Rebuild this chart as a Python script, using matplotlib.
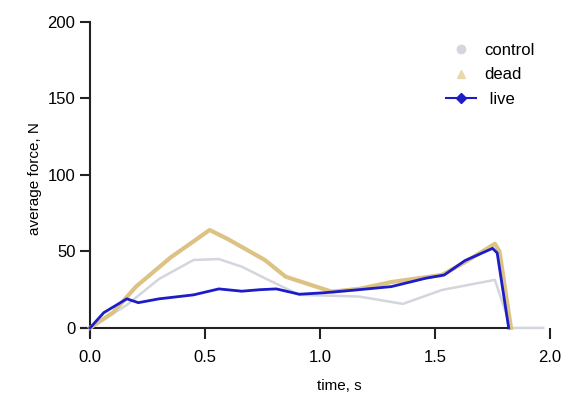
import matplotlib.pyplot as plt
from matplotlib.lines import Line2D

plt.rcParams['font.family'] = ['Liberation Sans', 'DejaVu Sans']

# live
t_live = [0.0, 0.06, 0.16, 0.21, 0.3, 0.45, 0.56, 0.66, 0.74, 0.81, 0.91, 1.02, 1.17,
          1.31, 1.46, 1.54, 1.63, 1.75, 1.77, 1.82]
f_live = [0.0, 10, 19, 16.5, 19, 21.6, 25.5, 24, 25, 25.5, 22, 23, 25,
          27, 32.5, 34.6, 44, 52, 49, 0]

# dead
t_dead = [0.0, 0.1, 0.2, 0.35, 0.52, 0.6, 0.76, 0.85, 1.05, 1.17, 1.31, 1.53, 1.63,
          1.76, 1.78, 1.83]
f_dead = [0.0, 10, 27, 46, 64, 58, 44.4, 33.5, 23.7, 25.5, 30, 34.6, 43,
          55, 50, 0]

# control
t_ctrl = [0.0, 0.16, 0.3, 0.45, 0.56, 0.66, 0.76, 0.91, 1.17, 1.36, 1.53, 1.76, 1.83, 1.97]
f_ctrl = [0.0, 15, 32, 44.4, 45, 40, 32.5, 21.6, 20.5, 15.7, 24.8, 31.4, 0, 0]

fig = plt.figure(figsize=(5.62, 3.99), dpi=100)
ax = fig.add_axes([0.1438, 0.159, 0.835, 0.786])

ax.plot(t_ctrl, f_ctrl, color='#d3d6dd', lw=1.8, zorder=2)
ax.plot(t_dead, f_dead, color='#dcc384', lw=3, zorder=3)
ax.plot(t_live, f_live, color='#1c1cc8', lw=2, zorder=4)

ax.set_xlim(-0.04, 2.0)
ax.set_ylim(-5, 200)
ax.spines['top'].set_visible(False)
ax.spines['right'].set_visible(False)
ax.spines['left'].set_position(('data', 0))
ax.spines['bottom'].set_position(('data', 0))
ax.spines['left'].set_bounds(-5, 200)
ax.spines['bottom'].set_bounds(-0.04, 1.82)
for s in ('left', 'bottom'):
    ax.spines[s].set_linewidth(1.5)
    ax.spines[s].set_color('#222222')

ax.set_xticks([0.0, 0.5, 1.0, 1.5, 2.0])
ax.set_xticklabels(['0.0', '0.5', '1.0', '1.5', '2.0'])
ax.set_yticks([0, 50, 100, 150, 200])
ax.tick_params(axis='both', labelsize=12, width=1.5, length=7, color='#222222')
ax.tick_params(axis='x', length=8, pad=8)

ax.set_xlabel('time, s', fontsize=11)
ax.set_ylabel('average force, N', fontsize=11)
ax.xaxis.set_label_coords(0.55, -0.14)

handles = [
    Line2D([], [], color='none', marker='o', markersize=6,
           markerfacecolor='#d3d6dd', markeredgecolor='#d3d6dd'),
    Line2D([], [], color='none', marker='^', markersize=6,
           markerfacecolor='#ead9a8', markeredgecolor='#ead9a8'),
    Line2D([], [], color='#1c1cc8', lw=1.5, marker='D', markersize=5,
           markerfacecolor='#1c1cc8'),
]
ax.legend(handles, ['control', 'dead', ' live'], loc='upper right',
          bbox_to_anchor=(1.0, 0.98), frameon=False, fontsize=12,
          handlelength=1.8, labelspacing=0.55, handletextpad=0.5)

fig.savefig('out.png', dpi=100)
